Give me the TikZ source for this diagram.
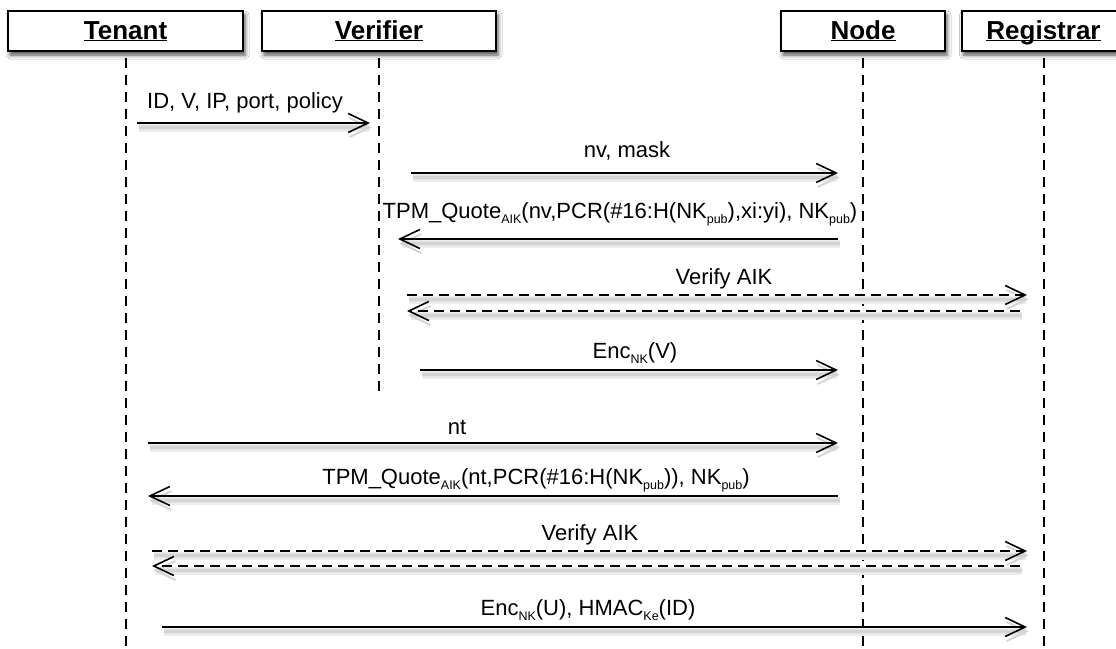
\documentclass[tikz,border=0pt]{standalone}
\usepackage{fontspec}
\setmainfont{Liberation Sans}
\usetikzlibrary{arrows.meta,shadows.blur}

% lowered small index text
\newcommand{\idx}[1]{\raisebox{-0.45ex}{\fontsize{12.5}{13}\selectfont #1}}
% underline that ignores descenders
\newcommand{\uline}[1]{\underline{\raisebox{0pt}[\height][0pt]{#1}}}

\begin{document}
\begin{tikzpicture}[x=1pt,y=-1pt,
  actor/.style={draw, line width=2pt, fill=white, minimum height=40pt,
    inner sep=0pt, text height=19pt, text depth=3pt,
    font=\fontsize{26}{30}\selectfont\bfseries,
    blur shadow={shadow xshift=2pt, shadow yshift=-4pt,
      shadow blur radius=4pt, shadow opacity=70}},
  lifeline/.style={line width=2pt, dash pattern=on 10pt off 7pt},
  lbl/.style={inner sep=0pt, font=\fontsize{22}{26}\selectfont},
  tip/.style={-{Straight Barb[length=20pt,width=19pt,line width=1.6pt]}},
  fuzz/.style={preaction={draw=black!7, line width=8pt,
      transform canvas={xshift=1.5pt,yshift=-4.5pt}},
    preaction={draw=black!11, line width=5pt,
      transform canvas={xshift=1.5pt,yshift=-4.5pt}},
    preaction={draw=black!17, line width=2.5pt,
      transform canvas={xshift=1.5pt,yshift=-4.5pt}}},
  msg/.style={tip, line width=1.8pt, fuzz},
  reply/.style={msg, dash pattern=on 10pt off 6pt},
]
\useasboundingbox (0,0) rectangle (1116,648);
\fill[white] (0,0) rectangle (1116,648);

% participants
\node[actor, minimum width=235pt] (tenant)    at (125.5,31) {\uline{Tenant}};
\node[actor, minimum width=234pt] (verifier)  at (379,31)   {\uline{Verifier}};
\node[actor, minimum width=164pt] (node)      at (863,31)   {\uline{Node}};
\node[actor, minimum width=168pt] (registrar) at (1045.5,31) {\hspace*{-4pt}\uline{Registrar}};

% lifelines
\coordinate (tenantEnd)    at (125.5,650);
\coordinate (verifierEnd)  at (379,398);
\coordinate (nodeEnd)      at (863,650);
\coordinate (registrarEnd) at (1043.5,650);
\draw[lifeline] ([yshift=-6pt]tenant.south)    -- (tenantEnd);
\draw[lifeline] ([yshift=-6pt]verifier.south)  -- (verifierEnd);
\draw[lifeline] ([yshift=-6pt]node.south)      -- (nodeEnd);
\draw[lifeline] ([xshift=-2pt,yshift=-6pt]registrar.south) -- (registrarEnd);

% message end points
\coordinate (a1) at (137,123);  \coordinate (b1) at (370,123);
\coordinate (a2) at (411,173);  \coordinate (b2) at (838,173);
\coordinate (a3) at (838,239);  \coordinate (b3) at (398,239);
\coordinate (a4) at (407,295);  \coordinate (b4) at (1027,295);
\coordinate (a5) at (1020,311); \coordinate (b5) at (407,311);
\coordinate (a6) at (420,370);  \coordinate (b6) at (838,370);
\coordinate (a7) at (148,443);  \coordinate (b7) at (838,443);
\coordinate (a8) at (838,496);  \coordinate (b8) at (148,496);
\coordinate (a9) at (152,551);  \coordinate (b9) at (1027,551);
\coordinate (a10) at (1020,566); \coordinate (b10) at (152,566);
\coordinate (a11) at (162,627); \coordinate (b11) at (1027,627);

% messages
\draw[msg]   (a1) -- (b1);
\draw[msg]   (a2) -- (b2);
\draw[msg]   (a3) -- (b3);
\draw[reply] (a4) -- (b4);
\draw[reply] (a5) -- (b5);
\draw[msg]   (a6) -- (b6);
\draw[msg]   (a7) -- (b7);
\draw[msg]   (a8) -- (b8);
\draw[reply] (a9) -- (b9);
\draw[reply] (a10) -- (b10);
\draw[msg]   (a11) -- (b11);

% message labels
\node[lbl] (l1) at (245,103) {ID, V, IP, port, policy};
\node[lbl] (l2) at (627,151) {nv, mask};
\node[lbl] (l3) at (620,214) {TPM\_Quote\idx{AIK}(nv,PCR(\#16:H(NK\idx{pub}),xi:yi), NK\idx{pub})};
\node[lbl] (l4) at (724,279) {Verify AIK};
\node[lbl] (l6) at (635,353) {Enc\idx{NK}(V)};
\node[lbl] (l7) at (457,427) {nt};
\node[lbl] (l8) at (536,480) {TPM\_Quote\idx{AIK}(nt,PCR(\#16:H(NK\idx{pub})), NK\idx{pub})};
\node[lbl] (l9) at (590,535) {Verify AIK};
\node[lbl] (l11) at (588,610) {Enc\idx{NK}(U), HMAC\idx{Ke}(ID)};
\end{tikzpicture}
\end{document}
